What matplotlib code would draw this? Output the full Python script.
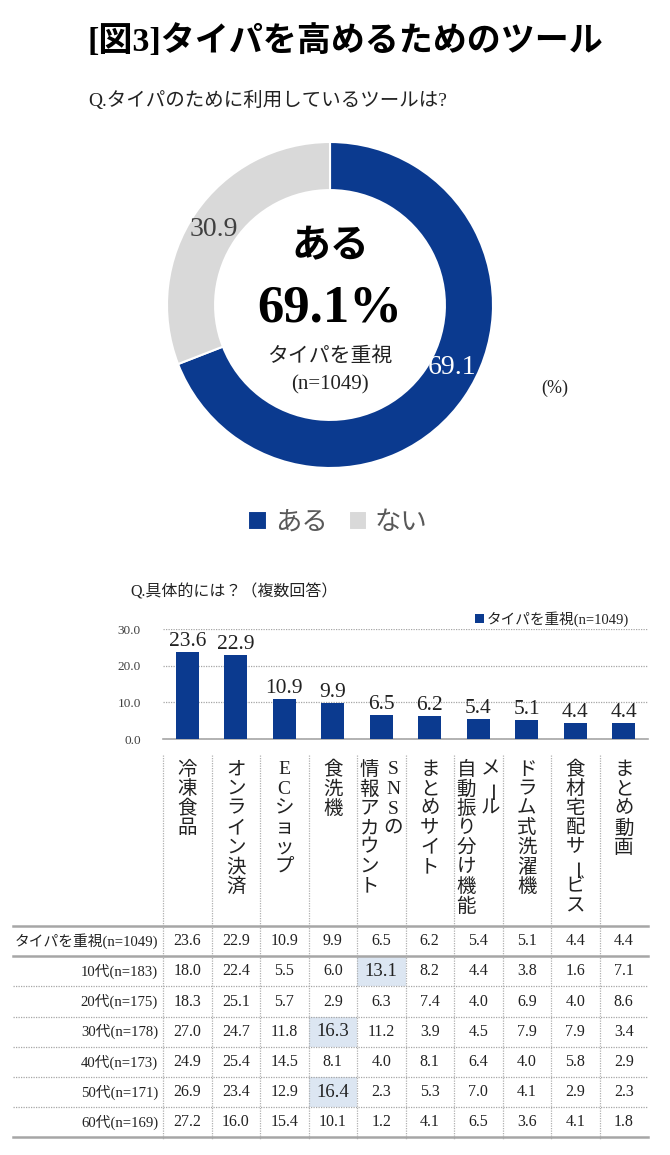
import matplotlib
matplotlib.use("Agg")
import matplotlib.pyplot as plt
from matplotlib.patches import Rectangle

plt.rcParams['font.family'] = ['Liberation Serif', 'Noto Sans CJK JP']

# データ
share_labels = ['ある', 'ない']
share_values = [69.1, 30.9]

categories = ['冷凍食品', 'オンライン決済', 'ECショップ', '食洗機', 'SNSの\n情報アカウント',
              'まとめサイト', 'メール\n自動振り分け機能', 'ドラム式洗濯機', '食材宅配サービス', 'まとめ動画']
total_label = 'タイパを重視(n=1049)'
total_values = [23.6, 22.9, 10.9, 9.9, 6.5, 6.2, 5.4, 5.1, 4.4, 4.4]

age_labels = ['10代(n=183)', '20代(n=175)', '30代(n=178)', '40代(n=173)', '50代(n=171)', '60代(n=169)']
age_values = [
    [18.0, 22.4, 5.5, 6.0, 13.1, 8.2, 4.4, 3.8, 1.6, 7.1],
    [18.3, 25.1, 5.7, 2.9, 6.3, 7.4, 4.0, 6.9, 4.0, 8.6],
    [27.0, 24.7, 11.8, 16.3, 11.2, 3.9, 4.5, 7.9, 7.9, 3.4],
    [24.9, 25.4, 14.5, 8.1, 4.0, 8.1, 6.4, 4.0, 5.8, 2.9],
    [26.9, 23.4, 12.9, 16.4, 2.3, 5.3, 7.0, 4.1, 2.9, 2.3],
    [27.2, 16.0, 15.4, 10.1, 1.2, 4.1, 6.5, 3.6, 4.1, 1.8],
]
highlight = [(0, 4), (2, 3), (4, 3)]

BLUE = '#0b3a8f'
GRAY = '#d9d9d9'
W, H = 670, 1155


def rect(x0, y0, x1, y1):
    return [x0 / W, 1 - y1 / H, (x1 - x0) / W, (y1 - y0) / H]


fig = plt.figure(figsize=(W / 100, H / 100), dpi=100)
fig.patch.set_facecolor('white')

# 全体に重ねる座標系（ピクセル単位）
ov = fig.add_axes([0, 0, 1, 1])
ov.set_xlim(0, W)
ov.set_ylim(H, 0)
ov.axis('off')
ov.patch.set_visible(False)
ov.set_zorder(10)

# タイトル
ov.text(88, 42, '[図3]タイパを高めるためのツール', ha='left', va='center',
        fontsize=24.5, fontweight='bold', color='black')
ov.text(88, 100, 'Q.タイパのために利用しているツールは?', ha='left', va='center',
        fontsize=14, color='#222222')

# ドーナツ
axd = fig.add_axes(rect(167, 142, 493, 468))
wedges, _ = axd.pie(share_values, colors=[BLUE, GRAY], startangle=90, counterclock=False,
                    radius=1, wedgeprops=dict(width=0.295, edgecolor='white', linewidth=1.5))
axd.set_xlim(-1, 1)
axd.set_ylim(-1, 1)
axd.set_aspect('equal')

ov.text(214, 230, f'{share_values[1]}', ha='center', va='center', fontsize=20, color='#404040')
ov.text(428, 368, f'{share_values[0]}', ha='left', va='center', fontsize=20, color='white')
ov.text(330, 248, share_labels[0], ha='center', va='center', fontsize=28, fontweight='bold')
ov.text(330, 308, f'{share_values[0]}%', ha='center', va='center', fontsize=38, fontweight='bold')
ov.text(330, 357, 'タイパを重視', ha='center', va='center', fontsize=15, color='#222222')
ov.text(330, 385, '(n=1049)', ha='center', va='center', fontsize=15, color='#222222')
ov.text(555, 388, '(%)', ha='center', va='center', fontsize=13, color='#222222')

axd.legend(wedges, share_labels, loc='center', bbox_to_anchor=(338 / W, 1 - 523 / H),
           bbox_transform=fig.transFigure, ncol=2, fontsize=19, frameon=False,
           handlelength=0.7, handleheight=0.7, columnspacing=0.8, handletextpad=0.3,
           labelcolor='#595959')

# 棒グラフ
ov.text(130, 592, 'Q.具体的には？（複数回答）', ha='left', va='center', fontsize=11.5, color='#222222')

X0, X1 = 163, 648
axb = fig.add_axes(rect(X0, 629, X1, 739))
xs = list(range(len(categories)))
bars = axb.bar(xs, total_values, width=0.47, color=BLUE, zorder=3, label=total_label)
for x, v in zip(xs, total_values):
    axb.text(x, v + 2.9, f'{v:.1f}', ha='center', va='center', fontsize=15.5, color='#222222')
axb.set_xlim(-0.5, len(categories) - 0.5)
axb.set_ylim(0, 30)
axb.set_yticks([0, 10, 20, 30])
axb.set_yticklabels([f'{t:.1f}' for t in [0, 10, 20, 30]], fontsize=9.5, color='#404040')
axb.set_xticks([])
axb.tick_params(axis='y', length=0, pad=16)
axb.yaxis.grid(True, linestyle=(0, (1, 1)), color='#a6a6a6', linewidth=0.9, zorder=0)
for s in ['top', 'right', 'left']:
    axb.spines[s].set_visible(False)
axb.spines['bottom'].set_color('#a6a6a6')
axb.spines['bottom'].set_linewidth(1.2)
axb.patch.set_visible(False)
axb.legend(loc='center left', bbox_to_anchor=(462 / W, 1 - 619 / H), bbox_transform=fig.transFigure,
           frameon=False, fontsize=10.5, handlelength=0.6, handleheight=0.6, handletextpad=0.2,
           labelcolor='#222222')

# 縦書きラベル
col_w = (X1 - X0) / len(categories)
centers = [X0 + col_w * (i + 0.5) for i in xs]
STEP = 19.5


def vertical(x, y, s, size=14):
    for k, ch in enumerate(s):
        if ch == 'ー':
            ov.text(x + 4, y + k * STEP, ch, ha='center', va='center', fontsize=size,
                    rotation=90, color='#222222')
        else:
            ov.text(x, y + k * STEP, ch, ha='center', va='center', fontsize=size,
                    color='#222222')


for cx, lab in zip(centers, categories):
    parts = lab.split('\n')
    if len(parts) == 1:
        vertical(cx, 770, parts[0])
    else:
        vertical(cx + 12, 770, parts[0])
        vertical(cx - 12, 770, parts[1])

# 表
T_LEFT = 13
ROW_TOP = 926
ROW_H = 30.2
n_rows = 1 + len(age_labels)
row_edges = [ROW_TOP + ROW_H * r for r in range(n_rows + 1)]

for (r, c) in highlight:
    y0 = row_edges[r + 1]
    ov.add_patch(Rectangle((X0 + col_w * c, y0), col_w, ROW_H, facecolor='#dce6f2',
                           edgecolor='none', zorder=0))

for i in range(len(categories)):
    xl = X0 + col_w * i
    ov.plot([xl, xl], [755, row_edges[-1] + 3], color='#b0b0b0', lw=0.9,
            linestyle=(0, (1, 1)), zorder=1)

for k, y in enumerate(row_edges):
    if k in (0, 1, n_rows):
        ov.plot([T_LEFT, X1], [y, y], color='#a6a6a6', lw=1.8, zorder=2)
    else:
        ov.plot([T_LEFT, X1], [y, y], color='#a6a6a6', lw=0.9, linestyle=(0, (1, 1)), zorder=2)

row_names = [total_label] + age_labels
row_vals = [total_values] + age_values
for r, (name, vals) in enumerate(zip(row_names, row_vals)):
    cy = row_edges[r] + ROW_H / 2
    ov.text(X0 - 5, cy, name, ha='right', va='center', fontsize=10.6, color='#222222')
    for c, v in enumerate(vals):
        big = (r - 1, c) in highlight
        ov.text(centers[c], cy, f'{v:.1f}', ha='center', va='center',
                fontsize=13.5 if big else 11.5, color='#222222', zorder=3)

fig.savefig('out.png', dpi=100, facecolor='white')
